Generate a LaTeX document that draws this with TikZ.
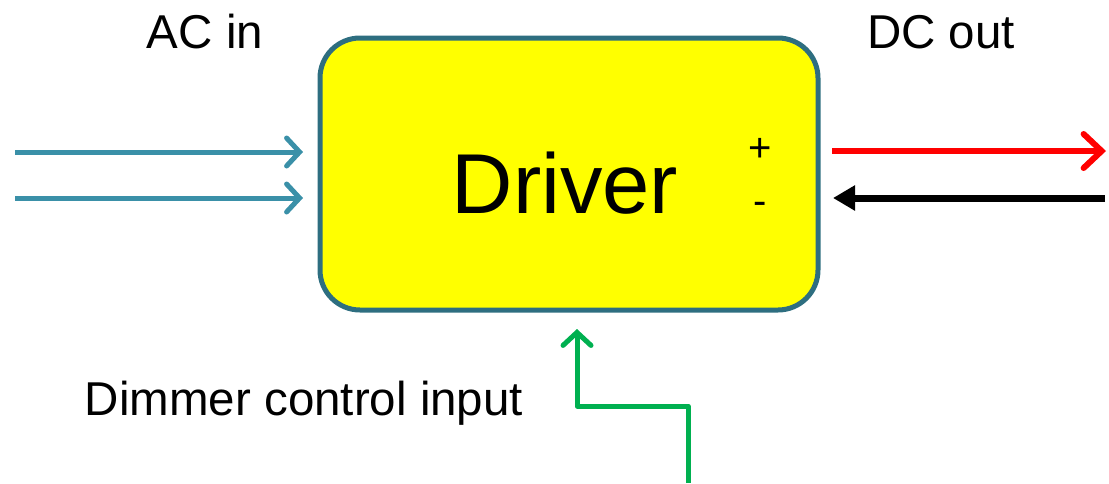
\documentclass[tikz,border=0pt]{standalone}
\usepackage{fontspec}
\setmainfont{Liberation Sans}
\usetikzlibrary{arrows.meta}
\definecolor{boxedge}{HTML}{2E6E80}
\definecolor{boxfill}{HTML}{FFFF00}
\definecolor{acline}{HTML}{3A90A8}
\definecolor{dimline}{HTML}{00B050}
\definecolor{plusline}{HTML}{FF0000}
\tikzset{
  driverbox/.style={draw=boxedge, fill=boxfill, line width=5pt, rounded corners=40pt},
  label/.style={font=\fontsize{47.5}{50}\selectfont, anchor=base, inner sep=0pt},
  openhead/.style={-{Straight Barb[length=13pt, width=28pt, line cap=round]}, line width=5pt},
  bighead/.style={-{Straight Barb[length=18pt, width=34pt, line cap=round]}, line width=6pt},
  solidhead/.style={-{Triangle[length=22pt, width=24pt]}, line width=7pt}
}
\begin{document}
\begin{tikzpicture}[x=1pt, y=-1pt]
\useasboundingbox (0,0) rectangle (1109,483);
\draw[driverbox] (320,38) rectangle (818,310);
\node[label, font=\fontsize{85}{90}\selectfont] (drv) at (565,213) {Driver};
\node[label, font=\fontsize{40}{42}\selectfont] (plus) at (760,161) {+};
\node[label, font=\fontsize{40}{42}\selectfont] (minus) at (760,214) {-};
\node[label] (acin) at (205,48) {AC in};
\node[label] (dcout) at (941,48) {DC out};
\node[label] (dim) at (304,415) {Dimmer control input};
% AC input lines
\coordinate (ac1s) at (15,152);
\coordinate (ac1e) at (303,152);
\coordinate (ac2s) at (15,198);
\coordinate (ac2e) at (303,198);
\draw[openhead, draw=acline] (ac1s) -- (ac1e);
\draw[openhead, draw=acline] (ac2s) -- (ac2e);
% DC output lines
\coordinate (dcps) at (832,151);
\coordinate (dcpe) at (1106,151);
\coordinate (dcns) at (1105,198);
\coordinate (dcne) at (833,198);
\draw[bighead, draw=plusline] (dcps) -- (dcpe);
\draw[solidhead, draw=black] (dcns) -- (dcne);
% dimmer control line
\coordinate (dims) at (688,483);
\coordinate (dimb) at (688,406);
\coordinate (dima) at (577,406);
\coordinate (dime) at (577,329);
\draw[openhead, draw=dimline, line join=round] (dims) -- (dimb) -- (dima) -- (dime);
\end{tikzpicture}
\end{document}
